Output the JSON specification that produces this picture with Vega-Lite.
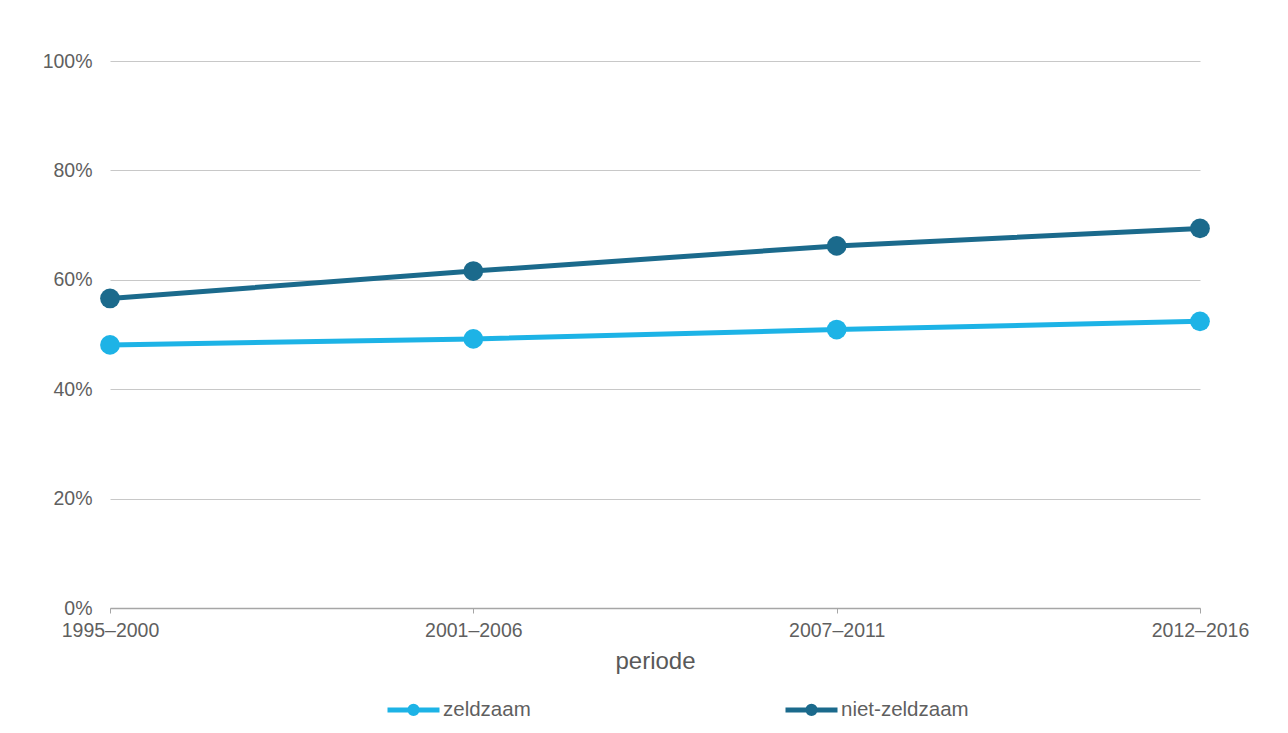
{
  "$schema": "https://vega.github.io/schema/vega-lite/v6.json",
  "width": 1090,
  "height": 547,
  "autosize": {"type": "none"},
  "padding": {"left": 110, "top": 61, "right": 88, "bottom": 125},
  "background": "#ffffff",
  "config": {
    "font": "Liberation Sans",
    "view": {"stroke": null}
  },
  "data": {
    "values": [
      {"periode": "1995–2000", "groep": "zeldzaam", "aandeel": 48.1},
      {"periode": "2001–2006", "groep": "zeldzaam", "aandeel": 49.2},
      {"periode": "2007–2011", "groep": "zeldzaam", "aandeel": 50.9},
      {"periode": "2012–2016", "groep": "zeldzaam", "aandeel": 52.4},
      {"periode": "1995–2000", "groep": "niet-zeldzaam", "aandeel": 56.6},
      {"periode": "2001–2006", "groep": "niet-zeldzaam", "aandeel": 61.6},
      {"periode": "2007–2011", "groep": "niet-zeldzaam", "aandeel": 66.2},
      {"periode": "2012–2016", "groep": "niet-zeldzaam", "aandeel": 69.4}
    ]
  },
  "mark": {
    "type": "line",
    "strokeWidth": 5,
    "point": {"filled": true, "size": 390, "opacity": 1}
  },
  "encoding": {
    "x": {
      "field": "periode",
      "type": "ordinal",
      "scale": {"type": "point", "padding": 0},
      "sort": ["1995–2000", "2001–2006", "2007–2011", "2012–2016"],
      "axis": {
        "title": "periode",
        "titleFontSize": 24,
        "titleFontWeight": "normal",
        "titleColor": "#595959",
        "titlePadding": 10,
        "labelAngle": 0,
        "labelFontSize": 19.5,
        "labelColor": "#5f5f5f",
        "labelPadding": 8,
        "tickSize": 5,
        "tickColor": "#a6a6a6",
        "domainColor": "#a6a6a6",
        "domainWidth": 1.5,
        "grid": false
      }
    },
    "y": {
      "field": "aandeel",
      "type": "quantitative",
      "scale": {"domain": [0, 100], "nice": false},
      "axis": {
        "title": null,
        "values": [0, 20, 40, 60, 80, 100],
        "labelExpr": "datum.value + '%'",
        "labelFontSize": 19.5,
        "labelColor": "#5f5f5f",
        "labelPadding": 18,
        "ticks": false,
        "domain": false,
        "grid": true,
        "gridColor": "#c8c8c8",
        "gridWidth": 1
      }
    },
    "color": {
      "field": "groep",
      "type": "nominal",
      "sort": ["zeldzaam", "niet-zeldzaam"],
      "scale": {"domain": ["zeldzaam", "niet-zeldzaam"], "range": ["#1db3e6", "#1b6a8c"]},
      "legend": {
        "title": null,
        "orient": "none",
        "legendX": 275,
        "legendY": 620,
        "direction": "horizontal",
        "columnPadding": 244,
        "symbolType": "M-1,0L1,0M-0.14,0A0.14,0.14,0,1,1,0.14,0A0.14,0.14,0,1,1,-0.14,0Z",
        "symbolSize": 2704,
        "symbolStrokeWidth": 5,
        "labelFontSize": 20.5,
        "labelColor": "#5f5f5f",
        "labelOffset": 1,
        "encode": {
          "symbols": {
            "update": {
              "fill": {"scale": "color", "field": "value"},
              "stroke": {"scale": "color", "field": "value"},
              "opacity": {"value": 1}
            }
          }
        }
      }
    }
  }
}
